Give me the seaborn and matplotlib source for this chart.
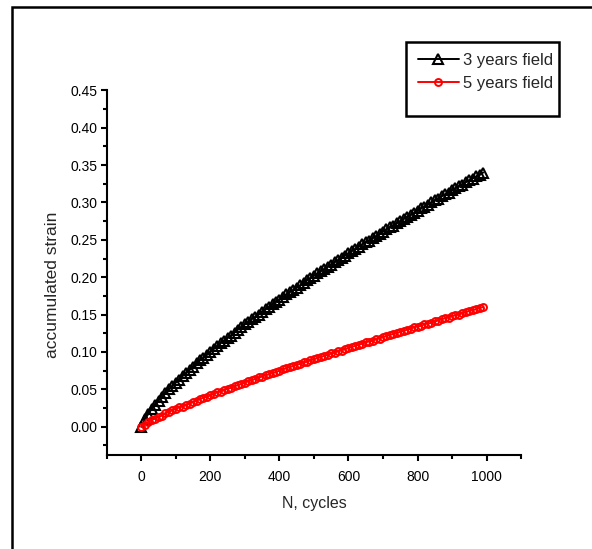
import numpy as np
import pandas as pd
import matplotlib
matplotlib.use("Agg")
import matplotlib.pyplot as plt
from matplotlib.patches import Rectangle
from matplotlib.ticker import MultipleLocator, FormatStrFormatter
import seaborn as sns

# cycles (every 10 cycles)
cycles = list(range(0, 1000, 10))

# accumulated strain
strain_3yr = [
    0.000, 0.010, 0.017, 0.024, 0.029, 0.035, 0.040, 0.045, 0.050, 0.054,
    0.059, 0.063, 0.068, 0.072, 0.076, 0.080, 0.085, 0.089, 0.092, 0.096,
    0.100, 0.104, 0.108, 0.112, 0.115, 0.119, 0.122, 0.126, 0.130, 0.133,
    0.137, 0.140, 0.144, 0.147, 0.150, 0.154, 0.157, 0.160, 0.164, 0.167,
    0.170, 0.173, 0.177, 0.180, 0.183, 0.186, 0.189, 0.192, 0.196, 0.199,
    0.202, 0.205, 0.208, 0.211, 0.214, 0.217, 0.220, 0.223, 0.226, 0.229,
    0.232, 0.235, 0.238, 0.241, 0.244, 0.247, 0.249, 0.252, 0.255, 0.258,
    0.261, 0.264, 0.267, 0.269, 0.272, 0.275, 0.278, 0.281, 0.283, 0.286,
    0.289, 0.292, 0.294, 0.297, 0.300, 0.303, 0.305, 0.308, 0.311, 0.313,
    0.316, 0.319, 0.322, 0.324, 0.327, 0.330, 0.332, 0.335, 0.337, 0.340,
]
strain_5yr = [
    0.000, 0.003, 0.006, 0.009, 0.011, 0.013, 0.015, 0.018, 0.020, 0.022,
    0.024, 0.026, 0.027, 0.029, 0.031, 0.033, 0.035, 0.037, 0.039, 0.040,
    0.042, 0.044, 0.046, 0.047, 0.049, 0.051, 0.052, 0.054, 0.056, 0.057,
    0.059, 0.061, 0.062, 0.064, 0.066, 0.067, 0.069, 0.070, 0.072, 0.073,
    0.075, 0.077, 0.078, 0.080, 0.081, 0.083, 0.084, 0.086, 0.087, 0.089,
    0.090, 0.092, 0.093, 0.095, 0.096, 0.098, 0.099, 0.101, 0.102, 0.104,
    0.105, 0.107, 0.108, 0.110, 0.111, 0.113, 0.114, 0.115, 0.117, 0.118,
    0.120, 0.121, 0.123, 0.124, 0.125, 0.127, 0.128, 0.130, 0.131, 0.133,
    0.134, 0.135, 0.137, 0.138, 0.139, 0.141, 0.142, 0.144, 0.145, 0.146,
    0.148, 0.149, 0.150, 0.152, 0.153, 0.155, 0.156, 0.157, 0.159, 0.160,
]

df = pd.DataFrame({"N": cycles, "3 years field": strain_3yr, "5 years field": strain_5yr})

sns.set_style("ticks")
plt.rcParams["font.family"] = ["Liberation Sans", "DejaVu Sans"]

fig = plt.figure(figsize=(5.92, 5.49), dpi=100)
ax = fig.add_axes([0.1804, 0.1709, 0.6998, 0.6646])

sns.lineplot(data=df, x="N", y="3 years field", ax=ax, color="black", lw=1.4,
             marker="^", ms=7, mfc="none", mec="black", mew=1.5,
             label="3 years field")
sns.lineplot(data=df, x="N", y="5 years field", ax=ax, color="red", lw=1.4,
             marker="o", ms=5, mfc="none", mec="red", mew=1.4,
             label="5 years field")

ax.set_xlim(-100, 1100)
ax.set_ylim(-0.038, 0.45)
ax.xaxis.set_major_locator(MultipleLocator(200))
ax.xaxis.set_minor_locator(MultipleLocator(100))
ax.yaxis.set_major_locator(MultipleLocator(0.05))
ax.yaxis.set_minor_locator(MultipleLocator(0.025))
ax.yaxis.set_major_formatter(FormatStrFormatter("%.2f"))

for side in ["top", "right"]:
    ax.spines[side].set_visible(False)
for side in ["left", "bottom"]:
    ax.spines[side].set_linewidth(1.5)
    ax.spines[side].set_color("black")

ax.tick_params(which="major", direction="out", length=4.5, width=1.5, colors="black", labelsize=10)
ax.tick_params(which="minor", direction="out", length=3, width=1.5, colors="black")
ax.tick_params(axis="x", which="major", pad=6)
ax.tick_params(axis="y", which="major", pad=2)

ax.set_xlabel("N, cycles", fontsize=11.5)
ax.set_ylabel("accumulated strain", fontsize=12.5)
ax.xaxis.set_label_coords(0.5, -0.113)
ax.yaxis.set_label_coords(-0.113, 0.467)

leg = ax.legend(loc="upper left", bbox_to_anchor=(0.706, 0.903), bbox_transform=fig.transFigure,
                frameon=False, fontsize=12, handlelength=2.45, handletextpad=0.25,
                borderpad=0, borderaxespad=0, labelspacing=0.45)

# legend box and outer frame
fig.add_artist(Rectangle((406 / 592, 1 - 116 / 549), 153 / 592, 74 / 549,
                         transform=fig.transFigure, fill=False, lw=1.8, ec="black"))
fig.add_artist(Rectangle((12 / 592, -0.05), 1.2, 1 - 7 / 549 + 0.05,
                         transform=fig.transFigure, fill=False, lw=1.8, ec="black"))

fig.savefig("out.png", dpi=100)
